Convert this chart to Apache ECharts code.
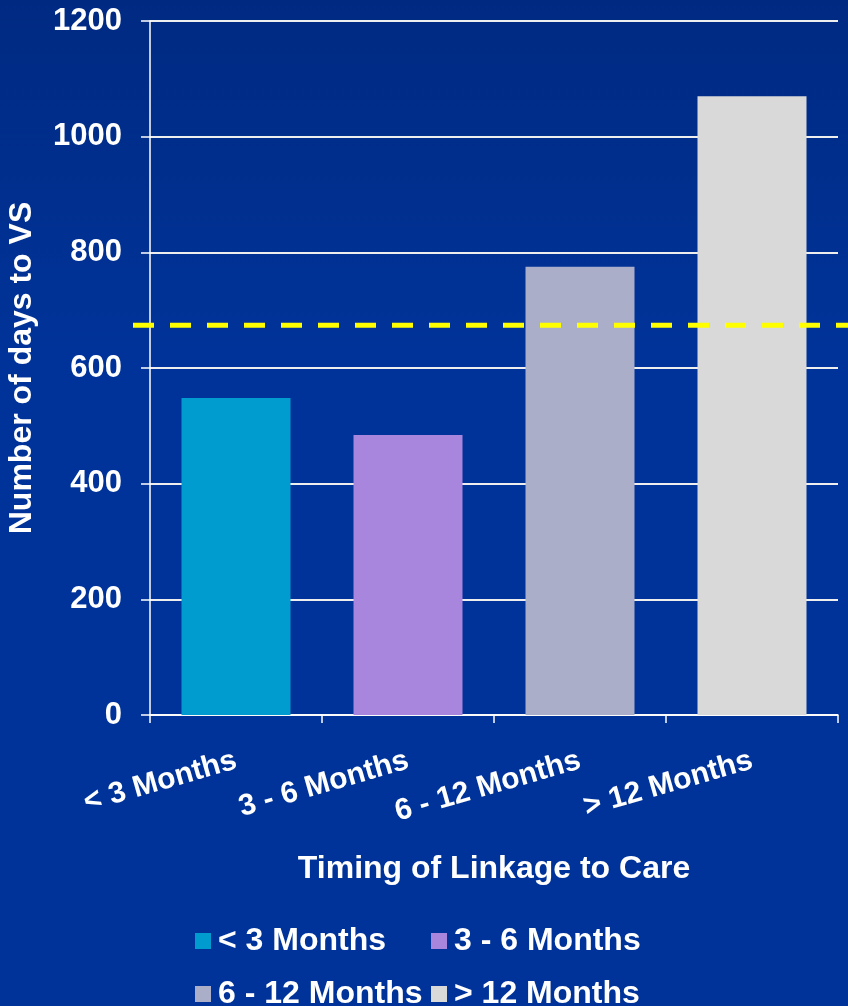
<!DOCTYPE html>
<html>
<head>
<meta charset="utf-8">
<script src="https://cdn.jsdelivr.net/npm/echarts@6/dist/echarts.min.js"></script>
<style>
html,body{margin:0;padding:0;background:#003399;}
#chart{width:848px;height:1006px;}
</style>
</head>
<body>
<div id="chart"></div>
<script>
const categories = ['< 3 Months', '3 - 6 Months', '6 - 12 Months', '> 12 Months'];
const values = [548, 484, 775, 1070];
const colors = ['#009ccf', '#a886de', '#aaaec9', '#d9d9d9'];
const referenceValue = 674;
const yTicks = { min: 0, max: 1200, interval: 200 };

const FONT = "'Liberation Sans', Arial, sans-serif";
const chart = echarts.init(document.getElementById('chart'));

const barSeries = categories.map((name, i) => ({
  name: name,
  type: 'bar',
  stack: 'all',
  xAxisIndex: 0,
  yAxisIndex: 0,
  barWidth: 109,
  itemStyle: { color: colors[i] },
  data: categories.map((c, j) => (j === i ? values[i] : '-')),
  z: 3
}));

const legendText = { color: '#ffffff', fontSize: 32, fontWeight: 'bold', fontFamily: FONT, lineHeight: 30, padding: [0, 0, 0, 2] };

chart.setOption({
  backgroundColor: {
    type: 'linear', x: 0, y: 0, x2: 0, y2: 1,
    colorStops: [
      { offset: 0, color: '#002a82' },
      { offset: 0.35, color: '#003399' },
      { offset: 1, color: '#003399' }
    ]
  },
  animation: false,
  grid: [
    { left: 150, right: 10, top: 21, bottom: 291, containLabel: false, outerBoundsMode: 'none' },
    { left: 133, right: 0, top: 21, bottom: 291, containLabel: false, outerBoundsMode: 'none' }
  ],
  legend: [
    {
      data: [categories[0], categories[2]],
      orient: 'vertical', left: 195, top: 925, padding: 0, height: 200,
      itemWidth: 16, itemHeight: 16, itemGap: 21,
      icon: 'rect', textStyle: legendText
    },
    {
      data: [categories[1], categories[3]],
      orient: 'vertical', left: 431, top: 925, padding: 0, height: 200,
      itemWidth: 16, itemHeight: 16, itemGap: 21,
      icon: 'rect', textStyle: legendText
    }
  ],
  xAxis: [
    {
      type: 'category',
      gridIndex: 0,
      data: categories,
      name: 'Timing of Linkage to Care',
      nameLocation: 'middle',
      nameGap: 138,
      nameTextStyle: { color: '#ffffff', fontSize: 32, fontWeight: 'bold', fontFamily: FONT },
      axisLine: { lineStyle: { color: '#ffffff', width: 1.5 } },
      axisTick: { show: true, length: 8, lineStyle: { color: '#ffffff', width: 1.5 } },
      axisLabel: {
        color: '#ffffff', fontSize: 30, fontWeight: 'bold', fontFamily: FONT,
        rotate: 16, margin: 45, interval: 0
      },
      splitLine: { show: false }
    },
    {
      type: 'value', gridIndex: 1, min: 0, max: 1, show: false
    }
  ],
  yAxis: [
    {
      type: 'value',
      gridIndex: 0,
      min: yTicks.min, max: yTicks.max, interval: yTicks.interval,
      name: 'Number of days to VS',
      nameLocation: 'middle',
      nameGap: 112,
      nameRotate: 90,
      nameTextStyle: { color: '#ffffff', fontSize: 32, fontWeight: 'bold', fontFamily: FONT },
      axisLine: { show: true, lineStyle: { color: '#ffffff', width: 1.5 } },
      axisTick: { show: true, length: 9, lineStyle: { color: '#ffffff', width: 1.5 } },
      axisLabel: {
        color: '#ffffff', fontSize: 31, fontWeight: 'bold', fontFamily: FONT, margin: 28,
        formatter: (v) => String(v)
      },
      splitLine: { show: true, lineStyle: { color: '#eeeeee', width: 2 } }
    },
    {
      type: 'value', gridIndex: 1, min: yTicks.min, max: yTicks.max, show: false
    }
  ],
  series: barSeries.concat([
    {
      name: 'reference',
      type: 'line',
      xAxisIndex: 1,
      yAxisIndex: 1,
      symbol: 'none',
      silent: true,
      lineStyle: { color: '#ffff00', width: 5, type: [21, 16] },
      data: [[0, referenceValue], [1, referenceValue]],
      z: 10
    }
  ])
});
</script>
</body>
</html>
